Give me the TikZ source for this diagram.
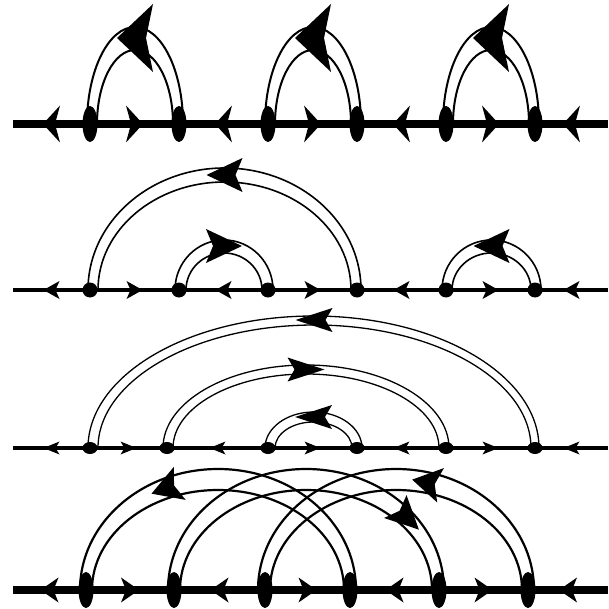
\documentclass[tikz,border=0pt]{standalone}
\usetikzlibrary{arrows.meta,decorations.markings,calc,shapes.geometric}
\begin{document}
\begin{tikzpicture}[x=1pt,y=-1pt,
  fm/.style 2 args={postaction={decorate},decoration={markings,mark=at position #1 with {\pgftransformxshift{#2}\arrow{>}}}},
  rm/.style 2 args={postaction={decorate},decoration={markings,mark=at position #1 with {\pgftransformxshift{#2}\arrowreversed{>}}}},
  vA/.style={ellipse,fill=black,inner sep=0pt,minimum width=15pt,minimum height=36pt},
  vB/.style={circle,fill=black,inner sep=0pt,minimum size=15pt},
  vC/.style={ellipse,fill=black,inner sep=0pt,minimum width=15pt,minimum height=12pt}]
\useasboundingbox (0,0) rectangle (608,609);

% ---------- coordinates ----------
\coordinate (L1) at (13,124); \coordinate (R1) at (608,124);
\coordinate (L2) at (13,290); \coordinate (R2) at (608,290);
\coordinate (L3) at (13,448); \coordinate (R3) at (608,448);
\coordinate (L4) at (13,590); \coordinate (R4) at (608,590);
\foreach \x [count=\i] in {90,179,268,357,446,535} \coordinate (p1\i) at (\x,124);
\foreach \x [count=\i] in {90,179,268,357,446,535} \coordinate (p2\i) at (\x,290);
\foreach \x [count=\i] in {90,167,268,357,446,535} \coordinate (p3\i) at (\x,448);
\foreach \x [count=\i] in {86,174,265,350,439,528} \coordinate (p4\i) at (\x,590);

% ---------- row 1 ----------
\begin{scope}[line width=8pt,>={Stealth[length=17pt,width=37pt,inset=5pt,line width=0pt]}]
\foreach \a/\b in {p11/L1,p11/p12,p13/p12,p13/p14,p15/p14,p15/p16,R1/p16}
  \draw[fm={0.5}{8.5pt}] (\a) -- (\b);
\end{scope}
\begin{scope}[line width=2pt,>={Stealth[length=36pt,width=68pt,inset=7pt,line width=0pt]}]
\foreach \s in {1,3,5}{
  \draw ($(p1\s)+(-3,0)$) arc[start angle=180,end angle=360,x radius=48,y radius=97];
  \draw ($(p1\s)+(7,0)$) arc[start angle=180,end angle=360,x radius=38,y radius=74];
  \path[rm={0.5}{-18pt}] ($(p1\s)+(2,0)$) arc[start angle=180,end angle=360,x radius=43,y radius=86];
}
\end{scope}

% ---------- row 2 ----------
\begin{scope}[line width=4.5pt,>={Stealth[length=16pt,width=18pt,inset=4pt,line width=0pt]}]
\foreach \a/\b in {p21/L2,p21/p22,p23/p22,p23/p24,p25/p24,p25/p26,R2/p26}
  \draw[fm={0.5}{8pt}] (\a) -- (\b);
\end{scope}
\begin{scope}[line width=1.6pt,>={Stealth[length=36pt,width=34pt,inset=7pt,line width=0pt]}]
\draw ($(p21)+(-2,0)$) arc[start angle=180,end angle=360,x radius=136.5,y radius=122];
\draw ($(p21)+(8,0)$) arc[start angle=180,end angle=360,x radius=126.5,y radius=108];
\path[rm={0.5}{-18pt}] ($(p21)+(3,0)$) arc[start angle=180,end angle=360,x radius=131.5,y radius=115];
\draw ($(p22)+(-4,0)$) arc[start angle=180,end angle=360,x radius=49,y radius=50];
\draw ($(p22)+(7,0)$) arc[start angle=180,end angle=360,x radius=38,y radius=37];
\path[fm={0.5}{18pt}] ($(p22)+(1.5,0)$) arc[start angle=180,end angle=360,x radius=43.5,y radius=44];
\draw ($(p25)+(-4,0)$) arc[start angle=180,end angle=360,x radius=49.5,y radius=50];
\draw ($(p25)+(6,0)$) arc[start angle=180,end angle=360,x radius=39.5,y radius=37];
\path[rm={0.5}{-18pt}] ($(p25)+(1,0)$) arc[start angle=180,end angle=360,x radius=44.5,y radius=44];
\end{scope}

% ---------- row 3 ----------
\begin{scope}[line width=4pt,>={Stealth[length=16pt,width=13pt,inset=4pt,line width=0pt]}]
\foreach \a/\b in {p31/L3,p31/p32,p33/p32,p33/p34,p35/p34,p35/p36,R3/p36}
  \draw[fm={0.5}{8pt}] (\a) -- (\b);
\end{scope}
\begin{scope}[line width=1.3pt,>={Stealth[length=37pt,width=24pt,inset=7pt,line width=0pt]}]
\draw ($(p31)+(-2,0)$) arc[start angle=180,end angle=360,x radius=225.5,y radius=132];
\draw ($(p31)+(8,0)$) arc[start angle=180,end angle=360,x radius=216.5,y radius=123];
\path[rm={0.5}{-18.5pt}] ($(p31)+(3,0)$) arc[start angle=180,end angle=360,x radius=221,y radius=128];
\draw ($(p32)+(-4,0)$) arc[start angle=180,end angle=360,x radius=143,y radius=83];
\draw ($(p32)+(6,0)$) arc[start angle=180,end angle=360,x radius=133,y radius=74];
\path[fm={0.5}{18.5pt}] ($(p32)+(1,0)$) arc[start angle=180,end angle=360,x radius=138,y radius=78.5];
\draw ($(p33)+(-3,0)$) arc[start angle=180,end angle=360,x radius=48.5,y radius=36];
\draw ($(p33)+(7,0)$) arc[start angle=180,end angle=360,x radius=38.5,y radius=26];
\path[rm={0.5}{-18.5pt}] ($(p33)+(2,0)$) arc[start angle=180,end angle=360,x radius=43.5,y radius=31];
\end{scope}

% ---------- row 4 ----------
\begin{scope}[line width=8pt,>={Stealth[length=18pt,width=25pt,inset=5pt,line width=0pt]}]
\foreach \a/\b in {p41/L4,p41/p42,p43/p42,p43/p44,p45/p44,p45/p46,R4/p46}
  \draw[fm={0.5}{9pt}] (\a) -- (\b);
\end{scope}
\begin{scope}[line width=2.2pt]
\foreach \s/\o/\i/\c in {1/-6/6/0,2/-6/6/0,3/-7/5/-1}{
  \draw ($(p4\s)+(\o,0)$) arc[start angle=180,end angle=360,x radius=138,y radius=121];
  \draw ($(p4\s)+(\i,0)$) arc[start angle=180,end angle=360,x radius=126,y radius=100];
}
\path[rm={0.36}{-15pt},>={Stealth[length=30pt,width=35pt,inset=6pt,line width=0pt]}] (p41) arc[start angle=180,end angle=360,x radius=132,y radius=110.5];
\path[fm={0.79}{16pt},>={Stealth[length=33pt,width=32pt,inset=6pt,line width=0pt]}] (p42) arc[start angle=180,end angle=360,x radius=132.5,y radius=110.5];
\path[rm={0.58}{-14.5pt},>={Stealth[length=29pt,width=35pt,inset=6pt,line width=0pt]}] ($(p43)+(-1,0)$) arc[start angle=180,end angle=360,x radius=132,y radius=110.5];
\end{scope}

% ---------- vertices ----------
\foreach \i in {1,...,6}{
  \node[vA] (v1\i) at (p1\i) {};
  \node[vB] (v2\i) at (p2\i) {};
  \node[vC] (v3\i) at (p3\i) {};
  \node[vA] (v4\i) at (p4\i) {};
}
\end{tikzpicture}
\end{document}
